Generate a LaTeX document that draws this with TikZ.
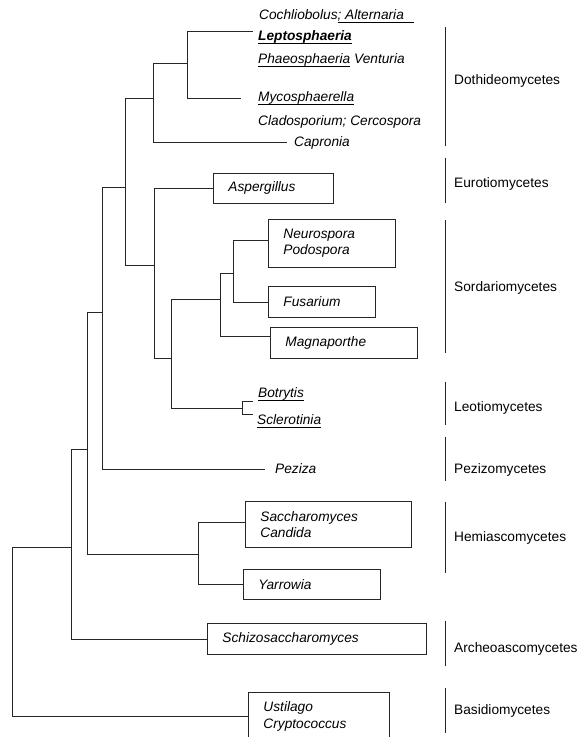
\documentclass[tikz,border=0pt]{standalone}
\usepackage{fontspec}
\setmainfont{Liberation Sans}
\newcommand{\myul}[1]{\leavevmode\setbox0=\hbox{#1}\rlap{\rule[-3.2pt]{\wd0}{1.2pt}}\box0\relax}
\begin{document}
\begin{tikzpicture}[x=1pt,y=-1pt,
  br/.style={line width=0.9pt, draw=black!85},
  lab/.style={anchor=west, inner sep=0pt, text height=9.8pt, text depth=0pt,
    font=\fontsize{13.7}{16.5}\selectfont\itshape},
  cls/.style={anchor=west, inner sep=0pt, text height=9.8pt, text depth=0pt,
    font=\fontsize{13.7}{16.5}\selectfont},
  tbox/.style 2 args={draw=black!85, line width=0.9pt, anchor=north west,
    inner xsep=15pt, inner ysep=0pt, text width=#1, minimum height=#2,
    align=left, font=\fontsize{13.7}{16.5}\selectfont\itshape},
  bar/.style={line width=0.9pt, draw=black!85}]
\useasboundingbox (0,0) rectangle (583,737);

% ---- boxed leaves
\node[tbox={90pt}{30pt}] (asp) at (213,173) {Aspergillus};
\node[tbox={97pt}{48pt}] (neu) at (268,219) {Neurospora\\Podospora};
\node[tbox={77pt}{31pt}] (fus) at (268,286) {Fusarium};
\node[tbox={117pt}{31pt}] (mag) at (270,327) {Magnaporthe};
\node[tbox={136pt}{46pt}] (sac) at (245,501) {Saccharomyces\\Candida};
\node[tbox={107pt}{30pt}] (yar) at (243,569) {Yarrowia};
\node[tbox={189pt}{31pt}] (sch) at (207,623) {Schizosaccharomyces};
\node[tbox={111pt}{48pt}] (ust) at (248,692) {Ustilago\\Cryptococcus};

% ---- text leaves
\node[lab] (coch) at (259,15) {Cochliobolus\myul{; Alternaria\hspace{10pt}}};
\node[lab] (lep) at (258,36) {\myul{\bfseries Leptosphaeria}};
\node[lab] (pha) at (258,59) {\myul{Phaeosphaeria} Venturia};
\node[lab] (myc) at (258,97) {\myul{Mycosphaerella}};
\node[lab] (cla) at (258,121) {Cladosporium; Cercospora};
\node[lab] (cap) at (294,142) {Capronia};
\node[lab] (bot) at (258,393) {\myul{Botrytis}};
\node[lab] (scl) at (257,420) {\myul{Sclerotinia}};
\node[lab] (pez) at (275,469) {Peziza};

% ---- branch ends
\coordinate (lepE) at (253,31);
\coordinate (mycE) at (241,98);
\coordinate (capE) at (287,142);
\coordinate (neuE) at (268,240);
\coordinate (magE) at (270,336);
\coordinate (botE) at (253,401);
\coordinate (sclE) at (253,414);
\coordinate (pezE) at (265,469);
\coordinate (sacE) at (245,522);

% ---- internal nodes
\coordinate (root) at (12,547);
\coordinate (nA) at (71,547);
\coordinate (nB) at (87,449);
\coordinate (nHm) at (198,554);
\coordinate (nC) at (102,312);
\coordinate (nD) at (125,187);
\coordinate (nDo) at (153,98);
\coordinate (nDi) at (187,63);
\coordinate (nE) at (154,265);
\coordinate (nF) at (171,358);
\coordinate (nG) at (220,299);
\coordinate (nH) at (233,273);
\coordinate (nL) at (242,408);

% ---- tree
\draw[br] (root) |- (nA);
\draw[br] (root) |- (ust.west);
\draw[br] (nA) |- (nB);
\draw[br] (nA) |- (sch.west);
\draw[br] (nB) |- (nC);
\draw[br] (nB) |- (nHm);
\draw[br] (nHm) |- (sacE);
\draw[br] (nHm) |- (yar.west);
\draw[br] (nC) |- (nD);
\draw[br] (nC) |- (pezE);
\draw[br] (nD) |- (nDo);
\draw[br] (nD) |- (nE);
\draw[br] (nDo) |- (nDi);
\draw[br] (nDo) |- (capE);
\draw[br] (nDi) |- (lepE);
\draw[br] (nDi) |- (mycE);
\draw[br] (nE) |- (asp.west);
\draw[br] (nE) |- (nF);
\draw[br] (nF) |- (nG);
\draw[br] (nF) |- (nL);
\draw[br] (nG) |- (nH);
\draw[br] (nG) |- (magE);
\draw[br] (nH) |- (neuE);
\draw[br] (nH) |- (fus.west);
\draw[br] (nL) |- (botE);
\draw[br] (nL) |- (sclE);

% ---- class bars and labels
\draw[bar] (445,27) -- (445,146);
\node[cls] (c1) at (454,80) {Dothideomycetes};
\draw[bar] (445,158) -- (445,203);
\node[cls] (c2) at (454,183) {Eurotiomycetes};
\draw[bar] (445,220) -- (445,353);
\node[cls] (c3) at (454,287) {Sordariomycetes};
\draw[bar] (445,382) -- (445,425);
\node[cls] (c4) at (454,407) {Leotiomycetes};
\draw[bar] (445,437) -- (445,481);
\node[cls] (c5) at (454,469) {Pezizomycetes};
\draw[bar] (445,502) -- (445,573);
\node[cls] (c6) at (454,537) {Hemiascomycetes};
\draw[bar] (445,621) -- (445,666);
\node[cls] (c7) at (454,648) {Archeoascomycetes};
\draw[bar] (445,688) -- (445,733);
\node[cls] (c8) at (454,710) {Basidiomycetes};
\end{tikzpicture}
\end{document}
